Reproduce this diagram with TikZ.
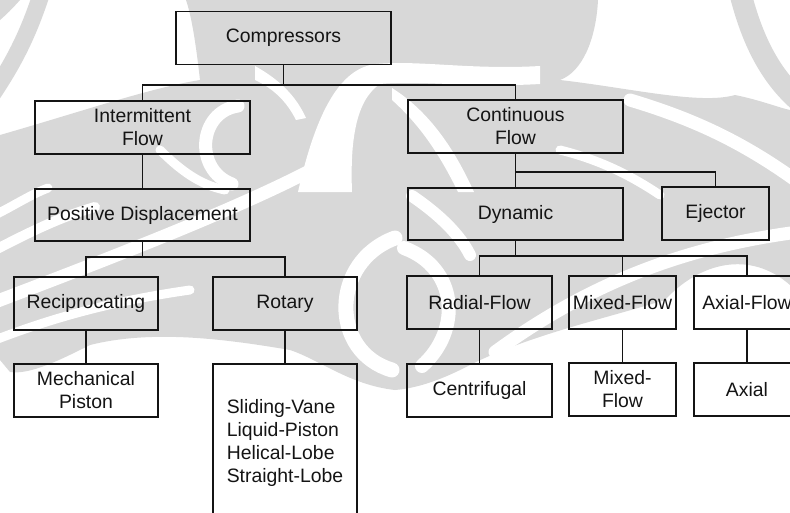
\documentclass[tikz,border=0pt]{standalone}
\usepackage{fontspec}
\setmainfont{Liberation Sans}
\definecolor{wm}{HTML}{D8D8D8}
\definecolor{ink}{HTML}{141414}
\tikzset{
  box/.style={draw=ink, line width=1.5pt, inner sep=0pt, align=center,
    font=\fontsize{19.4}{23}\selectfont, text=ink},
  wide/.style={box, minimum width=215pt, minimum height=53pt},
  mid/.style={box, minimum width=145pt, minimum height=53pt},
  narrow/.style={box, minimum width=107pt, minimum height=53pt},
  link/.style={draw=ink, line width=1.2pt},
  wmcut/.style={draw=white, line width=#1, line cap=round},
  wmband/.style={draw=wm, line width=#1, line cap=round},
}
\begin{document}
\begin{tikzpicture}[x=1pt,y=-1pt]
\useasboundingbox (0,0) rectangle (790,512);

% faint emblem in the background
\begin{scope}
\clip (0,0) rectangle (790,512);
\fill[wm] (0,0) -- (20,0) .. controls (13,8) and (6,15) .. (0,20) -- cycle;
\draw[wmband=17pt] (42,-8) .. controls (28,35) and (14,62) .. (-8,95);
\draw[wmband=22pt] (740,-8) .. controls (752,40) and (770,75) .. (798,100);
\fill[wm] (0,135) .. controls (80,112) and (150,88) .. (200,80)
  .. controls (196,45) and (192,18) .. (186,0)
  -- (598,0) .. controls (596,40) and (582,72) .. (560,80)
  .. controls (630,88) and (700,105) .. (735,95)
  .. controls (760,100) and (780,108) .. (790,110)
  -- (790,285) .. controls (750,250) and (700,262) .. (665,300)
  .. controls (600,320) and (530,335) .. (470,365)
  .. controls (445,378) and (420,388) .. (395,390)
  .. controls (350,385) and (320,360) .. (290,350)
  .. controls (220,338) and (150,330) .. (90,345)
  .. controls (60,360) and (30,375) .. (10,372)
  -- (0,360) -- cycle;
% white bands through the emblem
\fill[white] (298,192) .. controls (316,112) and (340,68) .. (376,64)
  .. controls (420,60) and (470,70) .. (540,66)
  -- (540,84) .. controls (470,88) and (420,80) .. (380,84)
  .. controls (356,100) and (350,140) .. (352,192) -- cycle;
\fill[white] (392,88) .. controls (430,112) and (455,150) .. (474,192)
  -- (458,192) .. controls (440,155) and (420,125) .. (392,100) -- cycle;
\fill[white] (255,66) .. controls (280,80) and (296,96) .. (306,118)
  -- (296,120) .. controls (286,100) and (272,88) .. (255,80) -- cycle;
\draw[wmcut=13pt] (238,106) .. controls (198,112) and (194,170) .. (232,184);
\draw[wmcut=9pt] (-5,215) .. controls (15,205) and (30,195) .. (48,188);
\draw[wmcut=10pt] (-5,250) .. controls (30,232) and (60,217) .. (95,207);
\draw[wmcut=13pt] (-5,302) .. controls (100,262) and (250,205) .. (330,160);
\draw[wmcut=15pt] (395,238) .. controls (330,262) and (330,352) .. (392,370);
\draw[wmcut=14pt] (404,248) .. controls (458,268) and (462,330) .. (422,366);
\draw[wmcut=13pt] (630,100) .. controls (690,118) and (740,140) .. (798,182);
\draw[wmcut=12pt] (412,196) .. controls (440,215) and (460,235) .. (470,255);
\draw[wmcut=13pt] (798,232) .. controls (700,245) and (600,275) .. (495,352);
\draw[wmcut=9pt] (160,150) .. controls (180,170) and (200,185) .. (225,190);
\draw[wmcut=9pt] (560,150) .. controls (600,160) and (630,175) .. (660,195);
\draw[wmcut=9pt] (-5,340) .. controls (60,315) and (120,300) .. (190,290);
\end{scope}

% nodes of the classification tree
\node[wide] (comp) at (283.5,38) {Compressors};
\node[wide] (inter) at (142.5,127.5) {Intermittent\\Flow};
\node[wide] (cont) at (515.5,126.5) {Continuous\\Flow};
\node[wide, minimum height=52pt] (posd) at (142.5,215) {Positive Displacement};
\node[wide, minimum height=52pt] (dyn) at (515.5,214) {Dynamic};
\node[narrow] (ejec) at (715.5,213.5) {Ejector};
\node[box, minimum width=144pt, minimum height=53pt] (recip) at (86,303.5) {Reciprocating};
\node[box, minimum width=144pt, minimum height=53pt] (rot) at (285,303.5) {Rotary};
\node[mid] (radial) at (479.5,302.5) {Radial-Flow};
\node[narrow] (mixed) at (622.5,302.5) {Mixed-Flow};
\node[box, minimum width=106pt, minimum height=53pt] (axialf) at (747,302.5) {Axial-Flow};
\node[box, minimum width=144pt, minimum height=53pt] (mech) at (86,390.5) {Mechanical\\Piston};
\node[box, minimum width=144pt, minimum height=158pt, align=left] (list) at (285,443)
  {Sliding-Vane\\Liquid-Piston\\Helical-Lobe\\Straight-Lobe};
\node[mid] (centri) at (479.5,390.5) {Centrifugal};
\node[narrow] (mixedb) at (622.5,389.5) {Mixed-\\Flow};
\node[box, minimum width=106pt, minimum height=53pt] (axial) at (747,389.5) {Axial};

% bus levels
\coordinate (bus1) at (0,85);
\coordinate (bus2) at (0,257);
\coordinate (bus3) at (0,172);
\coordinate (bus4) at (0,256);

% connectors
\draw[link] (comp.south) -- (comp.south |- bus1);
\draw[link] (inter.north) |- (cont.north |- bus1) -- (cont.north);
\draw[link] (inter.south) -- (posd.north);
\draw[link] (posd.south) -- (posd.south |- bus2);
\draw[link] (recip.north) |- (rot.north |- bus2) -- (rot.north);
\draw[link] (recip.south) -- (mech.north);
\draw[link] (rot.south) -- (list.north);
\draw[link] (cont.south) -- (cont.south |- bus3);
\draw[link] (dyn.north) |- (ejec.north |- bus3) -- (ejec.north);
\draw[link] (dyn.south) -- (dyn.south |- bus4);
\draw[link] (radial.north) |- (axialf.north |- bus4) -- (axialf.north);
\draw[link] (mixed.north) -- (mixed.north |- bus4);
\draw[link] (radial.south) -- (centri.north);
\draw[link] (mixed.south) -- (mixedb.north);
\draw[link] (axialf.south) -- (axial.north);
\end{tikzpicture}
\end{document}
